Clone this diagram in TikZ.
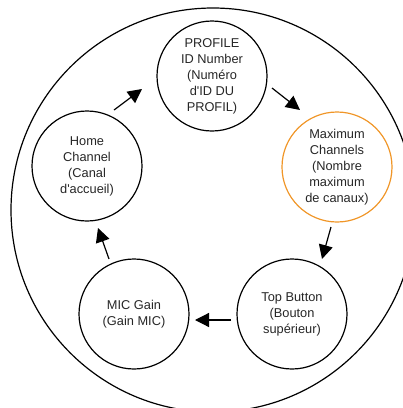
\documentclass[tikz,border=0pt]{standalone}
\usepackage{fontspec}
\setmainfont{Liberation Sans}
\usetikzlibrary{arrows.meta}
\definecolor{orng}{RGB}{240,150,40}
\begin{document}
\begin{tikzpicture}[x=1pt,y=-1pt,
  stage/.style={circle,draw,line width=1.2pt,minimum size=110pt,inner sep=0pt,align=center,
    font=\fontsize{12.8pt}{16pt}\selectfont,text=black!85},
  flow/.style={line width=1.2pt,-{Triangle[length=14pt,width=14pt]}}]
\useasboundingbox (0,0) rectangle (403,408);
\clip (0,0) rectangle (403,408);
\draw[line width=1.2pt] (213,210) circle[radius=202];
\node[stage] (prof) at (212,76) {PROFILE\\ID Number\\(Numéro\\d\textquotesingle ID DU\\PROFIL)};
\node[stage,draw=orng] (max) at (337,167) {Maximum\\Channels\\(Nombre\\maximum\\de canaux)};
\node[stage] (top) at (292,314) {Top Button\\(Bouton\\supérieur)};
\node[stage] (mic) at (134,314) {MIC Gain\\(Gain MIC)};
\node[stage] (home) at (87,166) {Home\\Channel\\(Canal\\d\textquotesingle accueil)};
\coordinate (a1s) at (272,88); \coordinate (a1e) at (300,110);
\coordinate (a2s) at (331,227); \coordinate (a2e) at (322,259);
\coordinate (a3s) at (231,320); \coordinate (a3e) at (195,320);
\coordinate (a4s) at (109,259); \coordinate (a4e) at (98,228);
\coordinate (a5s) at (114,110); \coordinate (a5e) at (142,89);
\draw[flow] (a1s) -- (a1e);
\draw[flow] (a2s) -- (a2e);
\draw[flow] (a3s) -- (a3e);
\draw[flow] (a4s) -- (a4e);
\draw[flow] (a5s) -- (a5e);
\end{tikzpicture}
\end{document}
